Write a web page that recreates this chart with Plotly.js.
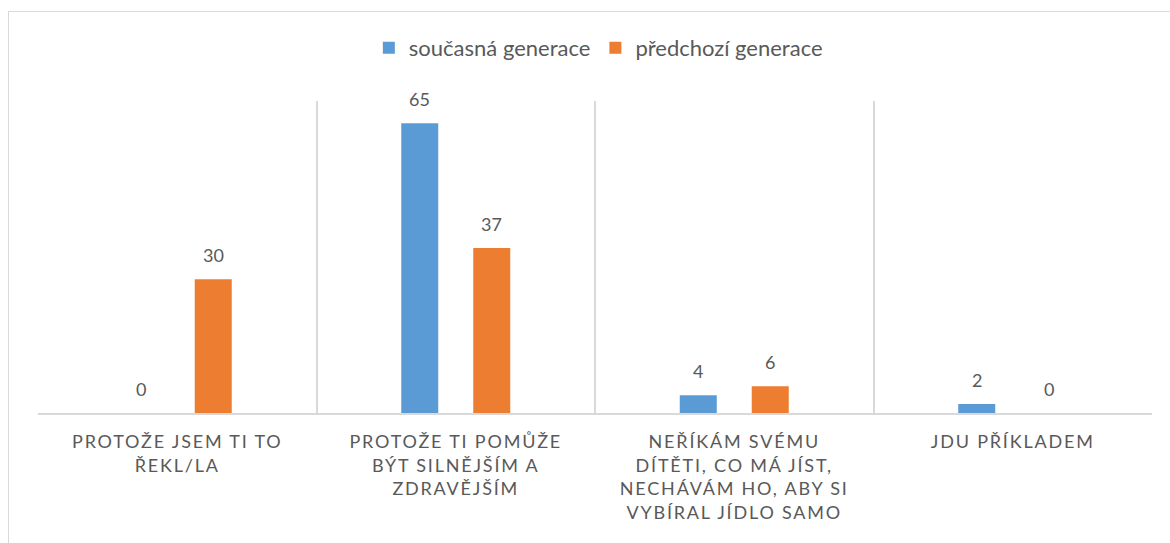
<!DOCTYPE html>
<html>
<head>
<meta charset="utf-8">
<script src="https://cdn.plot.ly/plotly-3.0.1.min.js"></script>
<style>
  html, body { margin: 0; padding: 0; background: #ffffff; }
  #frame { position: absolute; left: 8px; top: 11px; width: 1300px; height: 700px; border: 1px solid #d9d9d9; }
  #chart { position: absolute; left: 0; top: 0; width: 1170px; height: 543px; }
  #chart .xtick text { letter-spacing: 1.8px; }
</style>
</head>
<body>
<div id="frame"></div>
<div id="chart"></div>
<script>
const categories = [
  "PROTOŽE JSEM TI TO<br>ŘEKL/LA",
  "PROTOŽE TI POMŮŽE<br>BÝT SILNĚJŠÍM A<br>ZDRAVĚJŠÍM",
  "NEŘÍKÁM SVÉMU<br>DÍTĚTI, CO MÁ JÍST,<br>NECHÁVÁM HO, ABY SI<br>VYBÍRAL JÍDLO SAMO",
  "JDU PŘÍKLADEM"
];
const seriesNames = ["současná generace", "předchozí generace"];
const currentGen = [0, 65, 4, 2];
const previousGen = [30, 37, 6, 0];
const seriesColors = ["#5B9BD5", "#ED7D31"];

const FONT = "Lato, Open Sans, sans-serif";
const GRAY = "#595959";
const bargap = 0.483;

const allSeries = [currentGen, previousGen];
const traces = allSeries.map((vals, i) => ({
  type: "bar",
  name: seriesNames[i],
  x: categories,
  y: vals,
  marker: { color: seriesColors[i] },
  hoverinfo: "x+y+name"
}));

// data labels above each bar, placed through the axis scales
const slot = (1 - bargap) / 2;
const annotations = [];
allSeries.forEach((vals, s) => {
  vals.forEach((v, i) => {
    annotations.push({
      xref: "x", yref: "y",
      x: i + (s - 0.5) * slot,
      y: v,
      text: String(v),
      showarrow: false,
      yanchor: "bottom",
      yshift: 11,
      font: { family: FONT, size: 18, color: GRAY }
    });
  });
});

const layout = {
  width: 1170, height: 543,
  margin: { l: 38, r: 18, t: 101, b: 130 },
  paper_bgcolor: "rgba(0,0,0,0)",
  plot_bgcolor: "rgba(0,0,0,0)",
  barmode: "group",
  bargap: bargap,
  bargroupgap: 0.486,
  showlegend: true,
  legend: {
    orientation: "h",
    x: 0.503, xanchor: "center",
    y: 1.17, yanchor: "middle",
    font: { family: FONT, size: 22, color: GRAY },
    itemwidth: 30,
    traceorder: "normal"
  },
  xaxis: {
    type: "category",
    range: [-0.5, 3.5],
    tickson: "boundaries",
    showgrid: true,
    gridcolor: "#d9d9d9",
    gridwidth: 1.5,
    showline: true,
    linecolor: "#d9d9d9",
    linewidth: 1.5,
    ticks: "",
    ticklabelstandoff: 12,
    tickfont: { family: FONT, size: 18, color: GRAY },
    automargin: false,
    fixedrange: true
  },
  yaxis: {
    range: [0, 70],
    visible: false,
    showgrid: false,
    zeroline: false,
    fixedrange: true
  },
  annotations: annotations
};

Plotly.newPlot("chart", traces, layout, { displayModeBar: false, staticPlot: false });
</script>
</body>
</html>
